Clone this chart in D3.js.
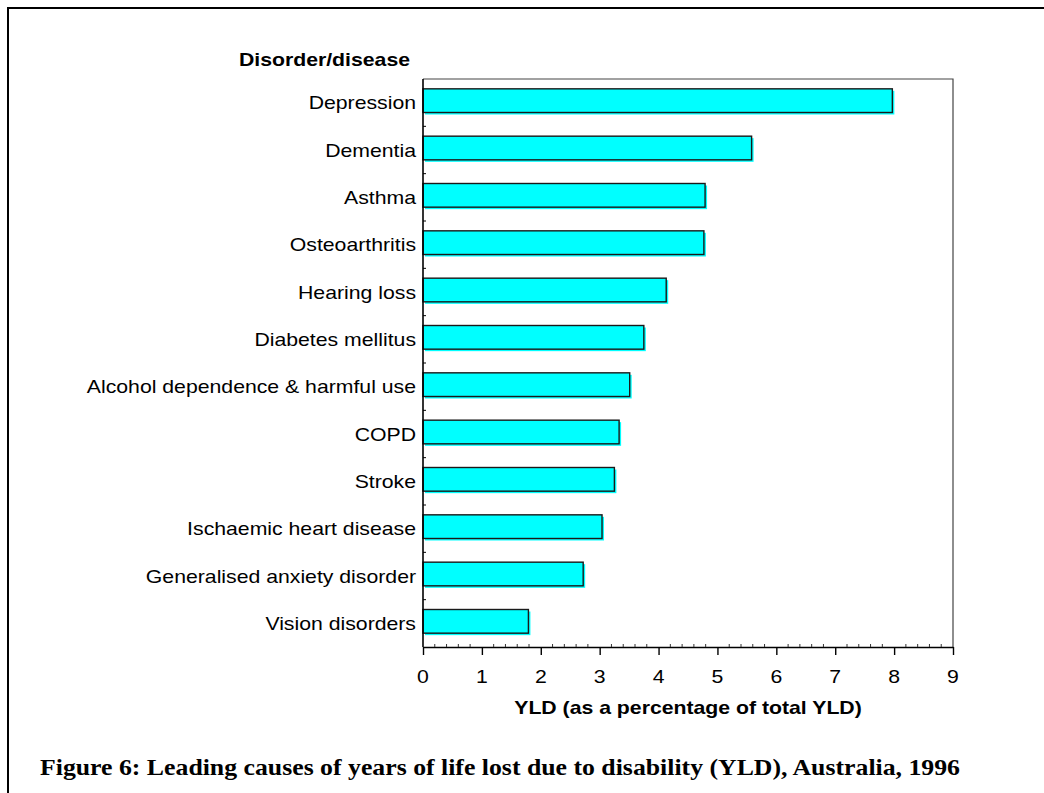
<!DOCTYPE html>
<html>
<head>
<meta charset="utf-8">
<script src="https://cdn.jsdelivr.net/npm/d3@7"></script>
<style>
  body { margin: 0; background: #fff; }
  svg { display: block; }
</style>
</head>
<body>
<div id="chart"></div>
<script>
// Chart data
const categories = [
    "Depression", "Dementia", "Asthma", "Osteoarthritis", "Hearing loss",
    "Diabetes mellitus", "Alcohol dependence & harmful use", "COPD", "Stroke",
    "Ischaemic heart disease", "Generalised anxiety disorder", "Vision disorders"
];
const values = [7.97, 5.58, 4.79, 4.77, 4.13, 3.75, 3.51, 3.33, 3.25, 3.04, 2.72, 1.79];
const xTicks = [0, 1, 2, 3, 4, 5, 6, 7, 8, 9];

const width = 1044, height = 793;
const plot = { left: 423, right: 953, top: 79, bottom: 647 };
const sans = "Liberation Sans, Arial, sans-serif";
const stretch = 1.18; // the source text is drawn a little wider than normal Arial

const svg = d3.select("#chart").append("svg")
    .attr("width", width)
    .attr("height", height);

/**
 * Draws a horizontally widened text label.
 */
function wideText(parent, x, y, str, anchor, size, weight) {
    return parent.append("text")
        .attr("transform", `translate(${x},${y}) scale(${stretch},1)`)
        .attr("text-anchor", anchor)
        .attr("font-family", sans)
        .attr("font-size", size)
        .attr("font-weight", weight || "normal")
        .attr("fill", "#000")
        .text(str);
}

// Outer frame (only top and left edges visible)
svg.append("path")
    .attr("d", `M8,${height} L8,8 L${width},8`)
    .attr("fill", "none")
    .attr("stroke", "#000")
    .attr("stroke-width", 2);

const x = d3.scaleLinear().domain([0, 9]).range([plot.left, plot.right]);
const y = d3.scaleBand().domain(categories).range([plot.top, plot.bottom]).paddingInner(0.5).paddingOuter(0.25);

// Plot box: top and right edges
svg.append("path")
    .attr("d", `M${plot.left},${plot.top} L${plot.right},${plot.top} L${plot.right},${plot.bottom}`)
    .attr("fill", "none")
    .attr("stroke", "#444")
    .attr("stroke-width", 1.2);

// Bars: cyan drop shadow then outlined bar
const bars = svg.append("g");
bars.selectAll(".shadow")
    .data(values)
    .enter().append("rect")
    .attr("class", "shadow")
    .attr("x", x(0) + 2)
    .attr("y", (d, i) => y(categories[i]))
    .attr("width", d => x(d) - x(0))
    .attr("height", y.bandwidth())
    .attr("fill", "#00ffff");

bars.selectAll(".bar")
    .data(values)
    .enter().append("rect")
    .attr("class", "bar")
    .attr("x", x(0))
    .attr("y", (d, i) => y(categories[i]) - 2)
    .attr("width", d => x(d) - x(0))
    .attr("height", y.bandwidth())
    .attr("fill", "#00ffff")
    .attr("stroke", "#1a1a1a")
    .attr("stroke-width", 1.4);

// X axis with major ticks outward and minor ticks inward
const xAxis = svg.append("g")
    .attr("transform", `translate(0,${plot.bottom})`)
    .call(d3.axisBottom(x).tickValues(xTicks).tickFormat("").tickSize(8).tickSizeOuter(0));
xAxis.select(".domain").attr("stroke", "#000").attr("stroke-width", 1.4);
xAxis.selectAll(".tick line").attr("stroke", "#000").attr("stroke-width", 1.4);

const tickLabels = svg.append("g");
xTicks.forEach(t => wideText(tickLabels, x(t), 683, String(t), "middle", 18));

const minor = d3.range(0, 9.001, 0.2).filter(v => Math.abs(v - Math.round(v)) > 0.01);
svg.append("g").selectAll("line")
    .data(minor)
    .enter().append("line")
    .attr("x1", d => x(d)).attr("x2", d => x(d))
    .attr("y1", plot.bottom - 3).attr("y2", plot.bottom)
    .attr("stroke", "#333")
    .attr("stroke-width", 1);

// Y axis line with inward ticks at band boundaries
svg.append("line")
    .attr("x1", plot.left).attr("x2", plot.left)
    .attr("y1", plot.top).attr("y2", plot.bottom)
    .attr("stroke", "#000").attr("stroke-width", 1.6);

const step = (plot.bottom - plot.top) / categories.length;
svg.append("g").selectAll("line")
    .data(d3.range(1, categories.length))
    .enter().append("line")
    .attr("x1", plot.left).attr("x2", plot.left + 3)
    .attr("y1", d => plot.top + d * step).attr("y2", d => plot.top + d * step)
    .attr("stroke", "#000").attr("stroke-width", 1);

// Category labels
const labels = svg.append("g");
categories.forEach(c => {
    wideText(labels, plot.left - 7, y(c) + y.bandwidth() / 2 + 6.5, c, "end", 18);
});

// Axis titles
wideText(svg, 410, 66, "Disorder/disease", "end", 18, "bold");
wideText(svg, (plot.left + plot.right) / 2, 714, "YLD (as a percentage of total YLD)", "middle", 18, "bold");

// Figure caption
svg.append("text")
    .attr("x", 40)
    .attr("y", 775)
    .attr("font-family", "Liberation Serif, Times New Roman, serif")
    .attr("font-size", 24)
    .attr("font-weight", "bold")
    .attr("textLength", 920)
    .attr("lengthAdjust", "spacingAndGlyphs")
    .text("Figure 6: Leading causes of years of life lost due to disability (YLD), Australia, 1996");
</script>
</body>
</html>
